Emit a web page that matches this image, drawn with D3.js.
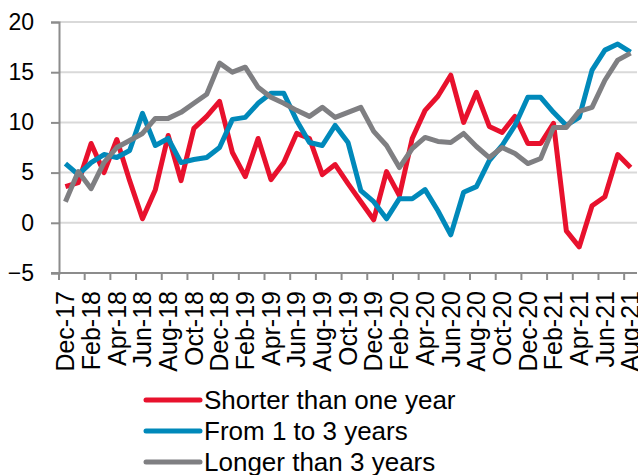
<!DOCTYPE html>
<html>
<head>
<meta charset="utf-8">
<script src="https://cdn.jsdelivr.net/npm/d3@7"></script>
<style>
  html, body { margin: 0; padding: 0; background: #ffffff; }
  svg { display: block; font-family: "Liberation Sans", Arial, sans-serif; }
</style>
</head>
<body>
<svg id="chart" width="638" height="475"></svg>
<script>
const months = ["Dec-17","Jan-18","Feb-18","Mar-18","Apr-18","May-18","Jun-18","Jul-18","Aug-18","Sep-18","Oct-18","Nov-18",
  "Dec-18","Jan-19","Feb-19","Mar-19","Apr-19","May-19","Jun-19","Jul-19","Aug-19","Sep-19","Oct-19","Nov-19",
  "Dec-19","Jan-20","Feb-20","Mar-20","Apr-20","May-20","Jun-20","Jul-20","Aug-20","Sep-20","Oct-20","Nov-20",
  "Dec-20","Jan-21","Feb-21","Mar-21","Apr-21","May-21","Jun-21","Jul-21","Aug-21"];
const tickLabels = ["Dec-17","Feb-18","Apr-18","Jun-18","Aug-18","Oct-18","Dec-18","Feb-19","Apr-19","Jun-19","Aug-19","Oct-19",
  "Dec-19","Feb-20","Apr-20","Jun-20","Aug-20","Oct-20","Dec-20","Feb-21","Apr-21","Jun-21","Aug-21"];
const shorterThanOneYear = [3.6,4.0,7.9,5.0,8.3,4.2,0.4,3.3,8.7,4.2,9.4,10.6,12.1,7.0,4.6,8.4,4.3,6.0,8.9,8.4,4.8,5.8,3.9,2.1,0.3,5.1,2.7,8.4,11.2,12.6,14.7,10.0,13.0,9.6,9.0,10.6,7.9,7.9,9.9,-0.8,-2.4,1.7,2.6,6.8,5.5];
const fromOneToThree = [5.9,4.8,6.0,6.8,6.5,7.2,10.9,7.7,8.4,6.0,6.3,6.5,7.5,10.3,10.5,11.9,12.9,12.9,10.2,8.0,7.7,9.7,8.0,3.2,2.1,0.4,2.4,2.4,3.3,1.2,-1.2,3.05,3.6,6.2,7.7,9.7,12.5,12.5,11.0,9.7,10.5,15.2,17.2,17.8,17.0];
const longerThanThree = [2.1,5.1,3.4,6.0,7.5,8.2,8.9,10.4,10.4,11.0,11.9,12.8,15.9,15.0,15.5,13.5,12.5,11.9,11.2,10.6,11.5,10.5,11.0,11.5,9.1,7.7,5.5,7.4,8.5,8.1,8.0,8.9,7.6,6.5,7.5,6.9,5.9,6.4,9.5,9.5,11.1,11.5,14.2,16.2,16.9];
const seriesNames = ["Shorter than one year","From 1 to 3 years","Longer than 3 years"];
const seriesColors = ["#e8112d","#0089ba","#7f7f82"];
const yTicks = [-5,0,5,10,15,20];

const series = [shorterThanOneYear, fromOneToThree, longerThanThree].map((vals, k) => ({
  name: seriesNames[k], color: seriesColors[k], values: vals
}));

const svg = d3.select("#chart");
const plotLeft = 59, plotRight = 637, plotTop = 22, plotBottom = 273;

const x = d3.scaleBand().domain(months).range([plotLeft, plotRight]).padding(0);
const y = d3.scaleLinear().domain([-5, 20]).range([plotBottom, plotTop]);

// gridlines
svg.append("g").selectAll("line").data(yTicks.filter(d => d > -5)).join("line")
  .attr("x1", plotLeft).attr("x2", plotRight)
  .attr("y1", d => y(d)).attr("y2", d => y(d))
  .attr("stroke", "#d9d9d9").attr("stroke-width", 2);

// y axis
const yAxis = svg.append("g").attr("transform", `translate(${plotLeft},0)`)
  .call(d3.axisLeft(y).tickValues(yTicks).tickSize(8).tickPadding(17).tickFormat(d3.format("d")));
yAxis.select(".domain").attr("stroke", "#8c8c8c").attr("stroke-width", 2);
yAxis.selectAll(".tick line").attr("stroke", "#8c8c8c").attr("stroke-width", 2);
yAxis.selectAll("text").attr("font-size", 23).attr("fill", "#000")
  .attr("font-family", "'Liberation Sans', Arial, sans-serif");

// x axis
const xAxisG = svg.append("g").attr("transform", `translate(0,${plotBottom})`);
xAxisG.append("line").attr("x1", plotLeft - 8).attr("x2", plotRight).attr("y1", 0).attr("y2", 0)
  .attr("stroke", "#8c8c8c").attr("stroke-width", 2);
xAxisG.selectAll("line.tk").data(tickLabels).join("line").attr("class", "tk")
  .attr("x1", d => x(d)).attr("x2", d => x(d)).attr("y1", 0).attr("y2", 7)
  .attr("stroke", "#8c8c8c").attr("stroke-width", 2);
xAxisG.selectAll("text").data(tickLabels).join("text")
  .attr("transform", d => `translate(${x(d) + x.bandwidth() / 2},18) rotate(-90)`)
  .attr("text-anchor", "end").attr("dy", "0.35em")
  .attr("font-size", 25).attr("fill", "#000")
  .text(d => d);

// lines
const line = d3.line()
  .x((d, i) => x(months[i]) + x.bandwidth() / 2)
  .y(d => y(d));
svg.append("g").selectAll("path").data(series).join("path")
  .attr("d", d => line(d.values))
  .attr("fill", "none").attr("stroke", d => d.color)
  .attr("stroke-width", 5).attr("stroke-linejoin", "round").attr("stroke-linecap", "butt");

// legend
const lg = svg.append("g").selectAll("g").data(series).join("g")
  .attr("transform", (d, i) => `translate(146,${400 + i * 31})`);
lg.append("line").attr("x1", 0).attr("x2", 54).attr("y1", 0).attr("y2", 0)
  .attr("stroke", d => d.color).attr("stroke-width", 5).attr("stroke-linecap", "round");
lg.append("text").attr("x", 58).attr("dy", "0.35em").attr("font-size", 26).attr("fill", "#000")
  .text(d => d.name);
</script>
</body>
</html>
